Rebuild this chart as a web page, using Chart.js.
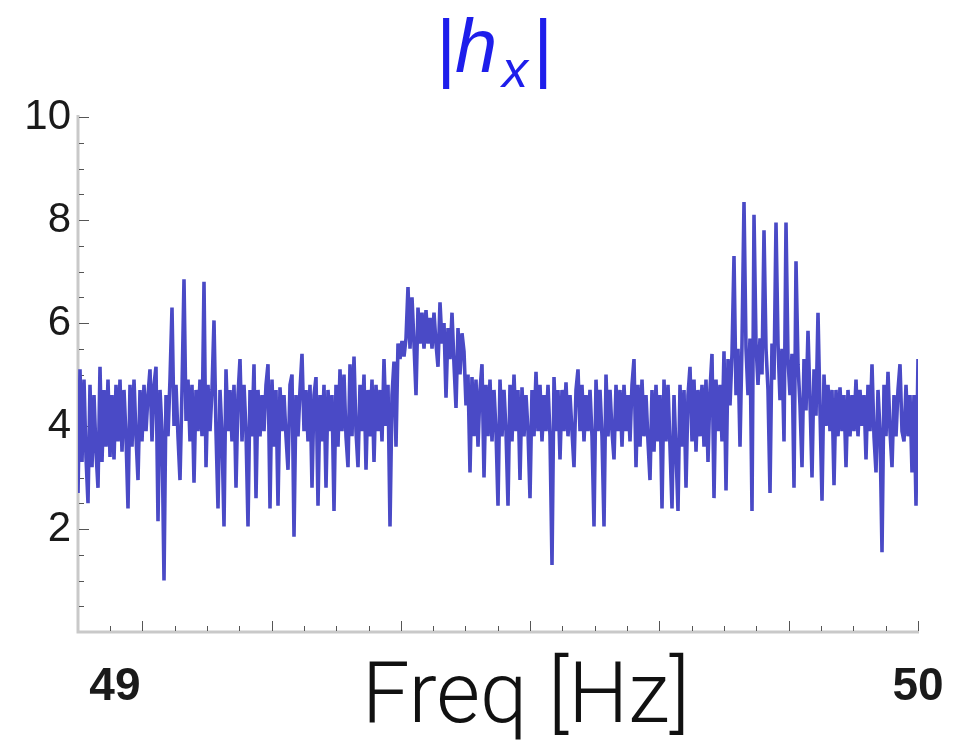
<!DOCTYPE html>
<html>
<head>
<meta charset="utf-8">
<script src="https://cdn.jsdelivr.net/npm/chart.js@4"></script>
<style>
  html, body { margin: 0; padding: 0; background: #fff; }
  #grafico { display: block; }
</style>
</head>
<body>
<canvas id="grafico" width="973" height="743"></canvas>
<script>
// Rango de frecuencias del espectro (Hz)
const F_MIN = 48.954;
const F_MAX = 50.0;

// |h_x| por tramos de frecuencia
const ampA = [2.7, 5.1, 3.3, 4.9, 3.4, 2.5, 4.8, 3.2, 4.6, 3.5, 2.8, 5.15, 3.3, 4.7, 3.6, 4.9,
  3.4, 4.6, 3.35, 4.8, 3.7, 4.9, 3.5, 4.7, 3.8, 2.4, 4.8, 3.6, 4.9, 3.8, 2.95, 4.7,
  3.7, 4.8, 3.9, 4.6, 5.1, 3.7, 4.8, 5.15, 2.15, 4.7, 3.9, 1.0, 4.6, 3.8, 4.9, 6.3,
  4.0, 4.8, 3.8, 2.95, 4.7, 6.85, 4.1, 4.9, 3.7, 4.8, 2.9, 4.7, 3.9, 4.9, 3.8, 6.8,
  3.2, 4.8, 3.9, 4.7, 6.05, 3.9];
const ampB = [2.4, 4.7, 3.8, 2.05, 5.1, 3.9, 4.7, 3.7, 4.8, 2.8, 4.6, 5.3, 3.7, 4.8, 3.9, 2.05,
  4.7, 3.8, 5.2, 2.6, 4.7, 3.8, 4.6, 3.9, 4.8, 5.2, 2.4, 4.9, 3.6, 4.7, 2.45, 4.75,
  3.9, 4.6, 3.8, 3.15, 4.8, 5.0, 1.85, 4.6, 3.8, 4.7, 5.4, 3.9, 4.7, 3.7, 4.8, 2.8,
  4.6, 4.95, 2.45, 4.6, 3.7, 4.8, 2.8, 4.7, 3.9, 4.6, 2.35, 4.8, 3.6, 5.1, 3.9, 5.0,
  3.8, 3.2, 5.2, 3.8, 5.35, 3.9];
const ampC = [3.2, 4.8, 3.9, 5.0, 3.15, 4.7, 3.8, 4.9, 3.3, 4.8, 3.9, 4.7, 3.7, 5.3, 4.0, 4.8,
  2.05, 4.6, 5.25, 3.6, 5.6, 5.3, 5.65, 5.35, 5.7, 6.7, 5.5, 6.5, 5.6, 4.6, 6.3, 5.6,
  6.2, 5.5, 6.25, 5.6, 6.1, 5.5, 6.2, 5.6, 5.15, 6.4, 5.6, 6.0, 4.55, 5.9, 5.3, 6.2,
  5.2, 4.35, 5.9, 5.0, 5.8, 5.45, 4.4, 5.0, 3.1, 4.95, 3.8, 4.9, 3.6, 4.7, 5.2, 3.0,
  4.8, 3.8, 4.9, 3.7, 4.7, 3.9];
const ampD = [2.45, 4.9, 3.8, 4.7, 3.9, 2.45, 4.8, 3.7, 5.0, 3.9, 4.7, 2.95, 4.75, 3.8, 4.6, 3.9,
  2.6, 4.7, 3.8, 5.05, 3.9, 4.8, 3.7, 4.6, 3.9, 4.8, 3.8, 1.3, 4.95, 3.9, 4.7, 3.35,
  4.7, 3.9, 4.85, 3.8, 4.6, 3.9, 3.2, 4.7, 5.1, 3.9, 4.8, 3.7, 4.6, 3.9, 4.7, 3.8,
  2.05, 4.9, 3.9, 4.7, 3.8, 2.05, 5.0, 3.8, 4.7, 3.9, 3.35, 4.8, 3.9, 4.7, 3.6, 4.8,
  3.9, 4.6, 3.7, 4.8, 5.3, 3.2];
const ampE = [4.8, 3.6, 4.9, 3.8, 4.6, 3.7, 2.95, 4.7, 3.5, 4.8, 3.7, 4.6, 2.4, 4.9, 3.7, 4.8,
  3.6, 2.4, 4.6, 3.5, 2.35, 4.8, 3.6, 4.7, 2.8, 4.6, 5.15, 3.7, 4.9, 3.5, 4.7, 3.8,
  4.8, 3.6, 4.9, 3.3, 4.7, 5.4, 2.6, 4.9, 3.9, 4.8, 3.7, 5.45, 2.75, 5.3, 4.4, 5.4,
  7.3, 4.6, 5.5, 3.6, 5.6, 8.35, 5.5, 4.6, 5.7, 2.35, 8.1, 5.6, 4.8, 5.7, 5.0, 7.8,
  5.5, 4.7, 2.7, 5.6, 4.9, 7.95];
const ampF = [5.6, 4.5, 5.5, 3.7, 7.95, 5.3, 4.6, 5.4, 2.8, 7.2, 5.2, 4.4, 3.2, 5.3, 4.3, 5.85,
  4.5, 3.0, 5.1, 4.2, 6.2, 4.3, 2.55, 5.0, 4.0, 4.8, 3.9, 4.7, 2.85, 4.7, 3.8, 4.75,
  3.9, 4.6, 3.2, 4.7, 3.8, 4.6, 3.9, 4.9, 3.8, 4.7, 4.0, 4.6, 3.35, 4.8, 3.9, 5.2,
  3.8, 3.1, 4.7, 3.9, 1.55, 4.8, 3.8, 5.05, 3.9, 3.2, 4.6, 3.8, 4.7, 5.2, 3.9, 3.7,
  4.8, 3.8, 4.6, 3.1, 4.6, 2.45, 5.3];

// Ejes
const Y_LABELS = [2, 4, 6, 8, 10];
const X_LABELS = [{ valor: 49, texto: '49' }, { valor: 50, texto: '50' }];
const X_MAJOR = [49.034, 49.195, 49.356, 49.517, 49.678, 49.839, 50.0];
const X_MINOR_STEP = 0.04025;
const Y_MINOR_STEP = 0.5;

const amplitud = [].concat(ampA, ampB, ampC, ampD, ampE, ampF);
const puntos = amplitud.map((a, i) => ({
  x: F_MIN + i * (F_MAX - F_MIN) / (amplitud.length - 1),
  y: a
}));

const COLOR_LINEA = 'rgb(74, 74, 198)';
const COLOR_EJE = '#c9c9c9';
const COLOR_TICK = '#555';

// Ejes estilo Mathematica: línea gris y marcas hacia dentro
const ejesPlugin = {
  id: 'ejes',
  beforeDatasetsDraw(chart) {
    const { ctx, chartArea, scales } = chart;
    const { left, right, top, bottom } = chartArea;
    ctx.save();

    ctx.strokeStyle = COLOR_EJE;
    ctx.lineWidth = 3;
    ctx.beginPath();
    ctx.moveTo(left, top - 2);
    ctx.lineTo(left, bottom);
    ctx.lineTo(right + 1, bottom);
    ctx.stroke();

    ctx.strokeStyle = COLOR_TICK;
    ctx.lineWidth = 1;

    // marcas del eje y
    for (let v = Y_MINOR_STEP; v <= 10.001; v += Y_MINOR_STEP) {
      const y = Math.round(scales.y.getPixelForValue(v)) + 0.5;
      const largo = Y_LABELS.includes(Math.round(v * 10) / 10) ? 10 : 5;
      ctx.beginPath();
      ctx.moveTo(left + 1, y);
      ctx.lineTo(left + 1 + largo, y);
      ctx.stroke();
    }

    // marcas del eje x
    const marcas = [];
    X_MAJOR.forEach(m => {
      marcas.push({ v: m, largo: 10 });
      for (let k = 1; k < 4; k++) marcas.push({ v: m - k * X_MINOR_STEP, largo: 5 });
    });
    marcas.forEach(m => {
      if (m.v <= scales.x.min + 0.01) return;
      const x = Math.round(scales.x.getPixelForValue(m.v)) + 0.5;
      ctx.beginPath();
      ctx.moveTo(x, bottom - 1);
      ctx.lineTo(x, bottom - 1 - m.largo);
      ctx.stroke();
    });
    ctx.restore();
  },
  afterDraw(chart) {
    const { ctx, scales } = chart;
    ctx.save();

    // etiquetas 49 / 50
    ctx.fillStyle = '#1a1a1a';
    ctx.font = 'bold 46px "Liberation Sans", Arial, sans-serif';
    ctx.textAlign = 'center';
    ctx.textBaseline = 'alphabetic';
    X_LABELS.forEach(l => {
      ctx.fillText(l.texto, scales.x.getPixelForValue(l.valor), 700);
    });

    // título del eje x
    let tam = 72;
    ctx.font = '300 ' + tam + 'px Roboto, Lato, sans-serif';
    const ancho = ctx.measureText('Freq [Hz]').width;
    tam = tam * 328 / ancho;
    ctx.font = '300 ' + tam.toFixed(1) + 'px Roboto, Lato, sans-serif';
    ctx.textAlign = 'left';
    ctx.fillStyle = '#111';
    ctx.fillText('Freq [Hz]', 362, 722);

    // título |h_x|
    ctx.fillStyle = 'rgb(30, 30, 235)';
    ctx.font = '76px "Liberation Sans", Arial, sans-serif';
    ctx.textAlign = 'center';
    ctx.fillText('|', 446, 73);
    ctx.fillText('|', 543, 73);
    ctx.textAlign = 'left';
    ctx.font = 'italic 76px "Liberation Sans", Arial, sans-serif';
    ctx.fillText('h', 455, 72);
    ctx.font = 'italic 52px "Liberation Sans", Arial, sans-serif';
    ctx.fillText('x', 502, 87);
    ctx.restore();
  }
};

new Chart(document.getElementById('grafico'), {
  type: 'line',
  data: {
    datasets: [{
      data: puntos,
      borderColor: COLOR_LINEA,
      borderWidth: 3.6,
      borderJoinStyle: 'bevel',
      pointRadius: 0,
      tension: 0,
      fill: false
    }]
  },
  options: {
    responsive: false,
    animation: false,
    devicePixelRatio: 1,
    layout: { padding: { top: 117, right: 55, left: 0, bottom: 0 } },
    plugins: { legend: { display: false }, tooltip: { enabled: false } },
    scales: {
      x: {
        type: 'linear',
        min: F_MIN,
        max: F_MAX,
        grid: { display: false },
        border: { display: false },
        ticks: { display: false },
        afterFit(scale) { scale.height = 111; }
      },
      y: {
        min: 0,
        max: 10,
        grid: { display: false, drawTicks: false },
        border: { display: false },
        ticks: {
          stepSize: 2,
          padding: 7,
          color: '#1a1a1a',
          font: { family: '"Liberation Sans", Arial, sans-serif', size: 42 },
          callback: v => (Y_LABELS.includes(v) ? String(v) : '')
        },
        afterFit(scale) { scale.width = 78; }
      }
    }
  },
  plugins: [ejesPlugin]
});
</script>
</body>
</html>
